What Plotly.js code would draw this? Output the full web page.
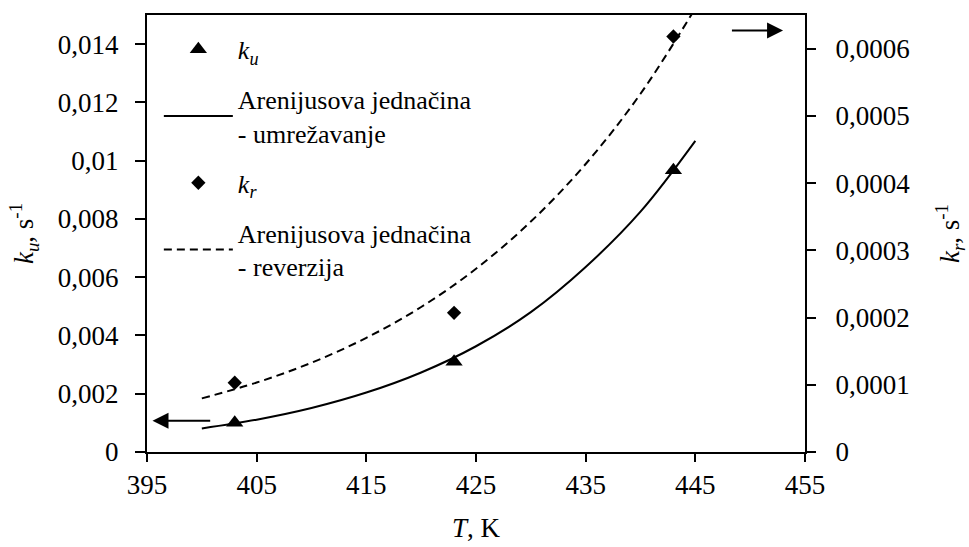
<!DOCTYPE html>
<html>
<head>
<meta charset="utf-8">
<script src="https://cdn.plot.ly/plotly-3.0.1.min.js"></script>
<style>html,body{margin:0;padding:0;background:#fff;}#chart{width:969px;height:547px;}</style>
</head>
<body>
<div id="chart"></div>
<script>
// measured points
var T_meas = [403, 423, 443];
var ku_meas = [0.00100, 0.00310, 0.00967];
var kr_meas = [0.000103, 0.000207, 0.000618];

// Arrhenius curves
var T_fit = [400, 405, 410, 415, 420, 425, 430, 435, 440, 445];
var ku_fit = [0.00081, 0.00111, 0.00151, 0.00204, 0.00273, 0.00363, 0.00480, 0.00635, 0.00825, 0.01068];
var kr_fit = [0.0000798, 0.0001033, 0.0001328, 0.0001698, 0.0002157, 0.0002726, 0.0003427, 0.0004284, 0.0005328, 0.00066];

// tick labels
var xTicks = [395, 405, 415, 425, 435, 445, 455];
var yTicks = [0, 0.002, 0.004, 0.006, 0.008, 0.01, 0.012, 0.014];
var yTickText = ['0', '0,002', '0,004', '0,006', '0,008', '0,01', '0,012', '0,014'];
var y2Ticks = [0, 0.0001, 0.0002, 0.0003, 0.0004, 0.0005, 0.0006];
var y2TickText = ['0', '0,0001', '0,0002', '0,0003', '0,0004', '0,0005', '0,0006'];

var names = ['<i>k</i><sub><i>u</i></sub>',
             'Arenijusova jednačina<br>- umrežavanje',
             '<i>k</i><sub><i>r</i></sub>',
             'Arenijusova jednačina<br>- reverzija'];

var FONT = '"Liberation Serif", "Times New Roman", serif';

var data = [
  {x: T_meas, y: ku_meas, type: 'scatter', mode: 'markers', name: names[0], yaxis: 'y', legendgroup: 'a',
   marker: {symbol: 'triangle-up', size: 15, color: '#000'}},
  {x: T_fit, y: ku_fit, type: 'scatter', mode: 'lines', name: names[1], yaxis: 'y', legendgroup: 'b',
   line: {color: '#000', width: 2, shape: 'spline'}},
  {x: T_meas, y: kr_meas, type: 'scatter', mode: 'markers', name: names[2], yaxis: 'y2', legendgroup: 'c',
   marker: {symbol: 'diamond', size: 11, color: '#000'}},
  {x: T_fit, y: kr_fit, type: 'scatter', mode: 'lines', name: names[3], yaxis: 'y2', legendgroup: 'd',
   line: {color: '#000', width: 2, dash: '8px,5px', shape: 'spline'}}
];

var layout = {
  width: 969, height: 547,
  margin: {l: 147, r: 164, t: 15, b: 95},
  paper_bgcolor: '#fff', plot_bgcolor: '#fff',
  font: {family: FONT, size: 27, color: '#000'},
  showlegend: true,
  legend: {x: 0.018, y: 0.975, xanchor: 'left', yanchor: 'top', bgcolor: 'rgba(0,0,0,0)',
           font: {family: FONT, size: 26, color: '#000'}, tracegroupgap: 13, itemwidth: 69,
           traceorder: 'grouped'},
  xaxis: {range: [395, 455], tickvals: xTicks, ticktext: xTicks.map(String),
          showgrid: false, zeroline: false, showline: true, linecolor: '#000', linewidth: 2,
          mirror: true, ticks: 'outside', ticklen: 8, tickwidth: 2, tickcolor: '#000',
          tickfont: {family: FONT, size: 27},
          title: {text: '<i>T</i>, K', font: {family: FONT, size: 27}, standoff: 19}},
  yaxis: {range: [0, 0.015], tickvals: yTicks, ticktext: yTickText,
          showgrid: false, zeroline: false, showline: true, linecolor: '#000', linewidth: 2,
          ticks: 'outside', ticklen: 10, tickwidth: 2, tickcolor: '#000', ticklabelstandoff: 11,
          tickfont: {family: FONT, size: 27},
          title: {text: '<i>k</i><sub><i>u</i></sub>, s<sup>-1</sup>', font: {family: FONT, size: 27}, standoff: 16}},
  yaxis2: {range: [0, 0.00065], tickvals: y2Ticks, ticktext: y2TickText, overlaying: 'y', side: 'right',
          showgrid: false, zeroline: false, showline: true, linecolor: '#000', linewidth: 2,
          ticks: 'outside', ticklen: 9, tickwidth: 2, tickcolor: '#000', ticklabelstandoff: 14,
          tickfont: {family: FONT, size: 27},
          title: {text: '<i>k</i><sub><i>r</i></sub>, s<sup>-1</sup>', font: {family: FONT, size: 27}, standoff: 33}},
  annotations: [
    {x: 395.5, y: 0.00107, xref: 'x', yref: 'y', ax: 400.9, ay: 0.00107, axref: 'x', ayref: 'y',
     showarrow: true, arrowhead: 2, arrowsize: 1.6, arrowwidth: 2, arrowcolor: '#000', text: ''},
    {x: 453, y: 0.000627, xref: 'x', yref: 'y2', ax: 448.2, ay: 0.000627, axref: 'x', ayref: 'y2',
     showarrow: true, arrowhead: 2, arrowsize: 1.6, arrowwidth: 2, arrowcolor: '#000', text: ''}
  ]
};

Plotly.newPlot('chart', data, layout, {displayModeBar: false, staticPlot: true});
</script>
</body>
</html>
